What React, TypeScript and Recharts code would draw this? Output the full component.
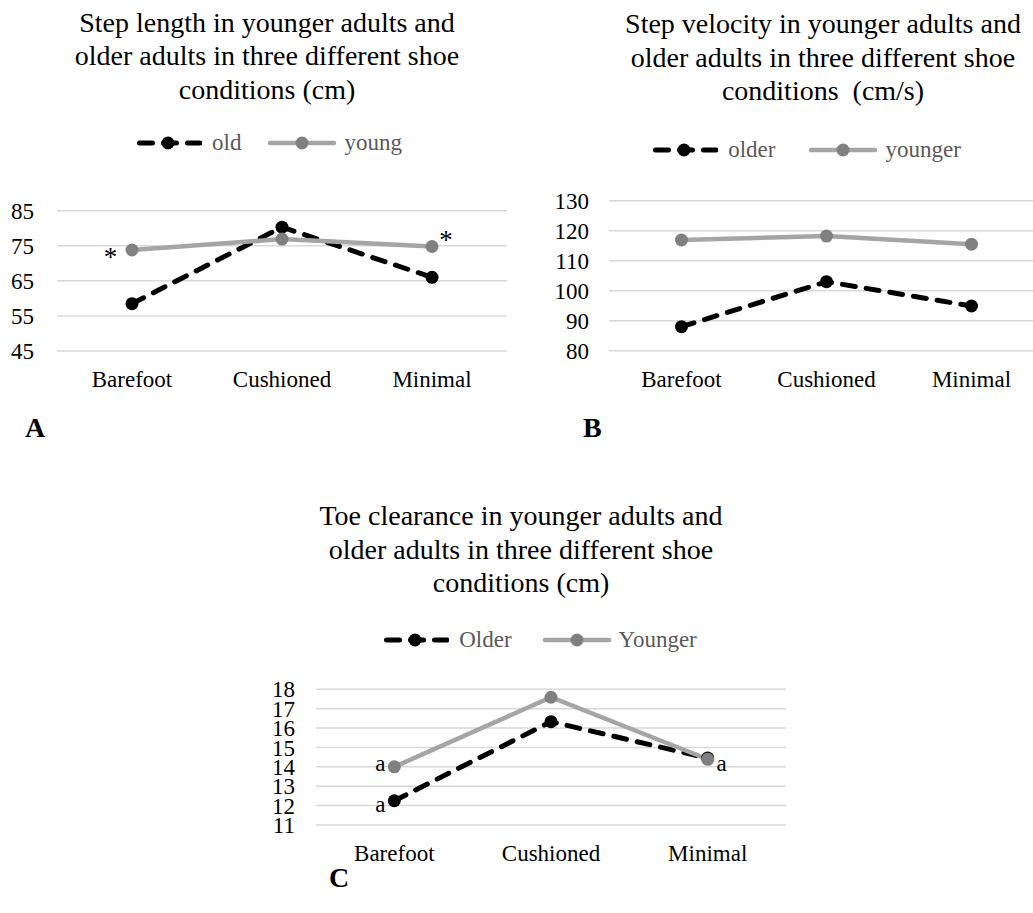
import React from 'react';
import { LineChart, Line, XAxis, YAxis, CartesianGrid, LabelList } from 'recharts';

const shoes = ['Barefoot', 'Cushioned', 'Minimal'];

// A - step length (cm)
const lengthTitle = ['Step length in younger adults and', 'older adults in three different shoe', 'conditions (cm)'];
const lengthNames = ['old', 'young'];
const lengthOld = [58.5, 80.3, 66];
const lengthYoung = [73.8, 76.9, 74.8];
const lengthOldNotes = ['', '', ''];
const lengthYoungNotes = ['*', '', '*'];
const lengthTicks = [45, 55, 65, 75, 85];

// B - step velocity (cm/s)
const velocityTitle = ['Step velocity in younger adults and', 'older adults in three different shoe', 'conditions  (cm/s)'];
const velocityNames = ['older', 'younger'];
const velocityOld = [88, 103, 94.9];
const velocityYoung = [116.9, 118.2, 115.5];
const velocityOldNotes = ['', '', ''];
const velocityYoungNotes = ['', '', ''];
const velocityTicks = [80, 90, 100, 110, 120, 130];

// C - toe clearance (cm)
const clearanceTitle = ['Toe clearance in younger adults and', 'older adults in three different shoe', 'conditions (cm)'];
const clearanceNames = ['Older', 'Younger'];
const clearanceOld = [12.25, 16.33, 14.45];
const clearanceYoung = [14.0, 17.59, 14.39];
const clearanceOldNotes = ['a', '', ''];
const clearanceYoungNotes = ['a', '', 'a'];
const clearanceTicks = [11, 12, 13, 14, 15, 16, 17, 18];

const buildRows = (old: number[], young: number[], oldNotes: string[], youngNotes: string[]) =>
  shoes.map((shoe, i) => ({ shoe, old: old[i], young: young[i], oldNote: oldNotes[i], youngNote: youngNotes[i] }));

const OLD_COLOR = '#000000';
const YOUNG_COLOR = '#a5a5a5';
const YOUNG_DOT = '#808080';
const FONT = 23;

// label offsets from the point, by category index
const noteRenderer = (offsets: Record<number, [number, number]>) => (props: any) => {
  const { x, y, value, index } = props;
  if (!value) return null;
  const [dx, dy] = offsets[index] ?? [0, 0];
  const size = value === '*' ? 27 : FONT;
  return (
    <text x={Number(x) + dx} y={Number(y) + dy} textAnchor="middle" fontSize={size} fill="#000">
      {value}
    </text>
  );
};

interface PanelProps {
  rows: ReturnType<typeof buildRows>;
  ticks: number[];
  left: number;
  top: number;
  width: number;
  height: number;
  marginTop: number;
  marginRight: number;
  yWidth: number;
  yGap: number;
  xHeight: number;
  pad: number;
  oldOffsets?: Record<number, [number, number]>;
  youngOffsets?: Record<number, [number, number]>;
}

const Panel: React.FC<PanelProps> = (p) => (
  <div style={{ position: 'absolute', left: p.left, top: p.top }}>
    <LineChart
      width={p.width}
      height={p.height}
      data={p.rows}
      margin={{ top: p.marginTop, right: p.marginRight, left: 0, bottom: 0 }}
    >
      <CartesianGrid vertical={false} stroke="#d9d9d9" strokeWidth={1.5} />
      <XAxis
        dataKey="shoe"
        height={p.xHeight}
        axisLine={false}
        tickLine={false}
        tickSize={0}
        tickMargin={20}
        interval={0}
        padding={{ left: p.pad, right: p.pad }}
        tick={{ fill: '#000', fontSize: FONT }}
      />
      <YAxis
        type="number"
        width={p.yWidth}
        domain={[p.ticks[0], p.ticks[p.ticks.length - 1]]}
        ticks={p.ticks}
        interval={0}
        axisLine={false}
        tickLine={false}
        tickSize={0}
        tickMargin={p.yGap}
        tick={{ fill: '#000', fontSize: FONT }}
      />
      <Line
        dataKey="old"
        stroke={OLD_COLOR}
        strokeWidth={5}
        strokeDasharray="13 11"
        strokeLinecap="round"
        dot={{ r: 6.5, fill: OLD_COLOR, stroke: 'none' }}
        isAnimationActive={false}
      >
        <LabelList dataKey="oldNote" content={noteRenderer(p.oldOffsets ?? {})} />
      </Line>
      <Line
        dataKey="young"
        stroke={YOUNG_COLOR}
        strokeWidth={4.5}
        strokeLinecap="round"
        dot={{ r: 6.5, fill: YOUNG_DOT, stroke: 'none' }}
        isAnimationActive={false}
      >
        <LabelList dataKey="youngNote" content={noteRenderer(p.youngOffsets ?? {})} />
      </Line>
    </LineChart>
  </div>
);

const Title = ({ lines, center, top }: { lines: string[]; center: number; top: number }) => (
  <div
    style={{
      position: 'absolute',
      left: center - 250,
      width: 500,
      top,
      textAlign: 'center',
      fontSize: 28,
      lineHeight: '33.5px',
      whiteSpace: 'pre',
      color: '#000',
    }}
  >
    {lines.map((l) => (
      <div key={l}>{l}</div>
    ))}
  </div>
);

const LegendRow = ({ names, center, midY, gap }: { names: string[]; center: number; midY: number; gap: number }) => (
  <div
    style={{
      position: 'absolute',
      left: center - 250,
      width: 500,
      top: midY - 13,
      height: 26,
      display: 'flex',
      justifyContent: 'center',
      alignItems: 'center',
      fontSize: FONT,
      lineHeight: '26px',
      color: '#595959',
    }}
  >
    <svg width={68} height={16}>
      <line x1={5.5} x2={66} y1={8} y2={8} stroke={OLD_COLOR} strokeWidth={5} strokeDasharray="13 11" strokeLinecap="round" />
      <circle cx={34} cy={8} r={6.5} fill={OLD_COLOR} />
    </svg>
    <span style={{ marginLeft: 10, marginRight: gap }}>{names[0]}</span>
    <svg width={70} height={16}>
      <line x1={3} x2={67} y1={8} y2={8} stroke={YOUNG_COLOR} strokeWidth={4.5} strokeLinecap="round" />
      <circle cx={35} cy={8} r={6.5} fill={YOUNG_DOT} />
    </svg>
    <span style={{ marginLeft: 7 }}>{names[1]}</span>
  </div>
);

const Letter = ({ text, left, top }: { text: string; left: number; top: number }) => (
  <div style={{ position: 'absolute', left, top, fontSize: 28, lineHeight: '28px', fontWeight: 'bold' }}>{text}</div>
);

export default function App() {
  return (
    <div
      style={{
        position: 'absolute',
        left: 0,
        top: 0,
        width: 1033,
        height: 913,
        overflow: 'hidden',
        background: '#fff',
        fontFamily: '"Liberation Serif", "Times New Roman", serif',
      }}
    >
      <Title lines={lengthTitle} center={267} top={5.5} />
      <LegendRow names={lengthNames} center={268} midY={143} gap={26} />
      <Panel
        rows={buildRows(lengthOld, lengthYoung, lengthOldNotes, lengthYoungNotes)}
        ticks={lengthTicks}
        left={0}
        top={180}
        width={520}
        height={230}
        marginTop={30.7}
        marginRight={13}
        yWidth={57}
        yGap={23}
        xHeight={59}
        pad={75}
        youngOffsets={{ 0: [-21.5, 16], 2: [14, 2.5] }}
      />
      <Letter text="A" left={25} top={413.5} />

      <Title lines={velocityTitle} center={823} top={7} />
      <LegendRow names={velocityNames} center={805.5} midY={150} gap={33} />
      <Panel
        rows={buildRows(velocityOld, velocityYoung, velocityOldNotes, velocityYoungNotes)}
        ticks={velocityTicks}
        left={540}
        top={170}
        width={504}
        height={230}
        marginTop={30.7}
        marginRight={0}
        yWidth={69}
        yGap={20}
        xHeight={49.3}
        pad={72.5}
      />
      <Letter text="B" left={583} top={413.5} />

      <Title lines={clearanceTitle} center={521} top={499} />
      <LegendRow names={clearanceNames} center={539} midY={640} gap={30} />
      <Panel
        rows={buildRows(clearanceOld, clearanceYoung, clearanceOldNotes, clearanceYoungNotes)}
        ticks={clearanceTicks}
        left={250}
        top={660}
        width={536}
        height={240}
        marginTop={29.3}
        marginRight={0}
        yWidth={66}
        yGap={21}
        xHeight={75}
        pad={78.3}
        oldOffsets={{ 0: [-14, 11.6] }}
        youngOffsets={{ 0: [-14, 4], 2: [14, 12] }}
      />
      <Letter text="C" left={329} top={863.5} />
    </div>
  );
}
